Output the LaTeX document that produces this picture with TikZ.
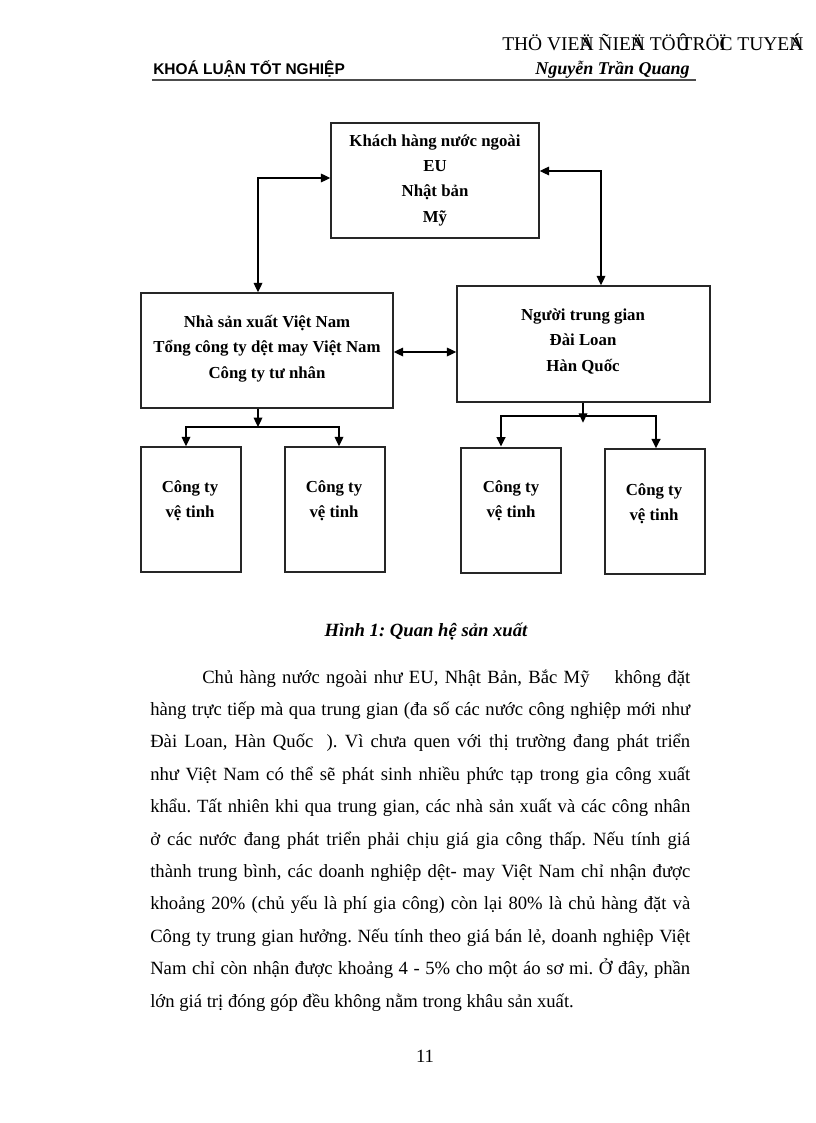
\documentclass[tikz,border=0pt]{standalone}
\usepackage{fontspec}
\setmainfont{Liberation Serif}
\setsansfont{Liberation Sans}
\usetikzlibrary{arrows.meta}
\frenchspacing

\begin{document}
\begin{tikzpicture}[x=0.75pt,y=-0.75pt,>={Triangle[length=7pt,width=6.5pt]},
  box/.style={draw=black!85,line width=1.1pt,inner sep=0pt},
  satbox/.style={box,minimum width=75pt,minimum height=93.75pt},
  boxtxt/.style={font=\bfseries\fontsize{12.6}{19}\selectfont,align=center,inner sep=0pt},
  link/.style={line width=0.9pt},
  thick link/.style={line width=1.6pt},
  body/.style={font=\fontsize{14}{17}\selectfont,anchor=mid west,inner sep=0pt}]
\useasboundingbox[fill=white] (0,0) rectangle (816,1123);
% page header
\node[font=\fontsize{14.6}{17}\selectfont,anchor=base west,inner sep=0pt] (site) at (502,51) {THÖ VIE\rlap{Ä}N ÑIE\rlap{Ä}N TÖ\rlap{Û} TRÖ\rlap{Ï}C TUYE\rlap{Á}N};
\node[font=\sffamily\bfseries\fontsize{11.6}{14}\selectfont,anchor=base west,inner sep=0pt] (thesis) at (153,75) {KHOÁ LUẬN TỐT NGHIỆP};
\node[font=\bfseries\itshape\fontsize{13.5}{16}\selectfont,anchor=base east,inner sep=0pt] (author) at (690,75) {Nguyễn Trần Quang};
\draw[line width=1.5pt,black!70] (152,80) -- (696,80);
% boxes of the diagram
\node[box,minimum width=156pt,minimum height=86.25pt] (cust) at (435,180.5) {};
\node[box,minimum width=189pt,minimum height=86.25pt] (prod) at (267,350.5) {};
\node[box,minimum width=189.75pt,minimum height=87pt] (mid) at (583.5,344) {};
\node[satbox] (sat1) at (191,509.5) {};
\node[satbox] (sat2) at (335,509.5) {};
\node[satbox,line width=1.5pt] (sat3) at (511,510) {};
\node[satbox] (sat4) at (655,511.5) {};
% texts in the boxes
\node[boxtxt] (cust-t) at (435,180) {Khách hàng nước ngoài\\EU\\Nhật bản\\Mỹ};
\node[boxtxt] (prod-t) at (267,348.5) {Nhà sản xuất Việt Nam\\Tổng công ty dệt may Việt Nam\\Công ty tư nhân};
\node[boxtxt] (mid-t) at (583,341.5) {Người trung gian\\Đài Loan\\Hàn Quốc};
\node[boxtxt] (sat1-t) at (190,500.5) {Công ty\\vệ tinh};
\node[boxtxt] (sat2-t) at (334,500.5) {Công ty\\vệ tinh};
\node[boxtxt] (sat3-t) at (511,501) {Công ty\\vệ tinh};
\node[boxtxt] (sat4-t) at (654,503.5) {Công ty\\vệ tinh};
% links between the boxes
\draw[link,<->] (prod.north -| 258,0) |- (cust.west |- 0,178);
\draw[link,<->] (cust.east |- 0,171) -| (mid.north -| 601,0);
\draw[link,<->] (prod.east |- 0,352) -- (mid.west |- 0,352);
\coordinate (lsplit) at (258,427);
\draw[link,->] (prod.south -| lsplit) -- (lsplit);
\draw[link,<->] (sat1.north -| 186,0) |- (lsplit) -| (sat2.north -| 339,0);
\coordinate (rsplit) at (583,416);
\draw[link,->] (mid.south -| rsplit) -- ([yshift=-5pt]rsplit);
\draw[thick link,<->] (sat3.north -| 501,0) |- (rsplit) -| (sat4.north -| 656,0);
% caption and text of the page
\node[font=\bfseries\itshape\fontsize{14}{17}\selectfont] (caption) at (426,632) {Hình 1: Quan hệ sản xuất};
\node[body] (p0) at (202,680) {\makebox[366pt][s]{Chủ hàng nước ngoài như EU, Nhật Bản, Bắc Mỹ\hspace{14pt} không đặt}};
\foreach \txt [count=\i] in {
  {hàng trực tiếp mà qua trung gian (đa số các nước công nghiệp mới như},
  {Đài Loan, Hàn Quốc\hspace{10pt}). Vì chưa quen với thị trường đang phát triển},
  {như Việt Nam có thể sẽ phát sinh nhiều phức tạp trong gia công xuất},
  {khẩu. Tất nhiên khi qua trung gian, các nhà sản xuất và các công nhân},
  {ở các nước đang phát triển phải chịu giá gia công thấp. Nếu tính giá},
  {thành trung bình, các doanh nghiệp dệt- may Việt Nam chỉ nhận được},
  {khoảng 20\% (chủ yếu là phí gia công) còn lại 80\% là chủ hàng đặt và},
  {Công ty trung gian hưởng. Nếu tính theo giá bán lẻ, doanh nghiệp Việt},
  {Nam chỉ còn nhận được khoảng 4 - 5\% cho một áo sơ mi. Ở đây, phần}}
  \node[body] (p\i) at (150,680+32.4*\i) {\makebox[405pt][s]{\txt}};
\node[body] (p10) at (150,1004) {lớn giá trị đóng góp đều không nằm trong khâu sản xuất.};
\node[font=\fontsize{14}{17}\selectfont] (pageno) at (425,1056) {11};
\end{tikzpicture}
\end{document}
